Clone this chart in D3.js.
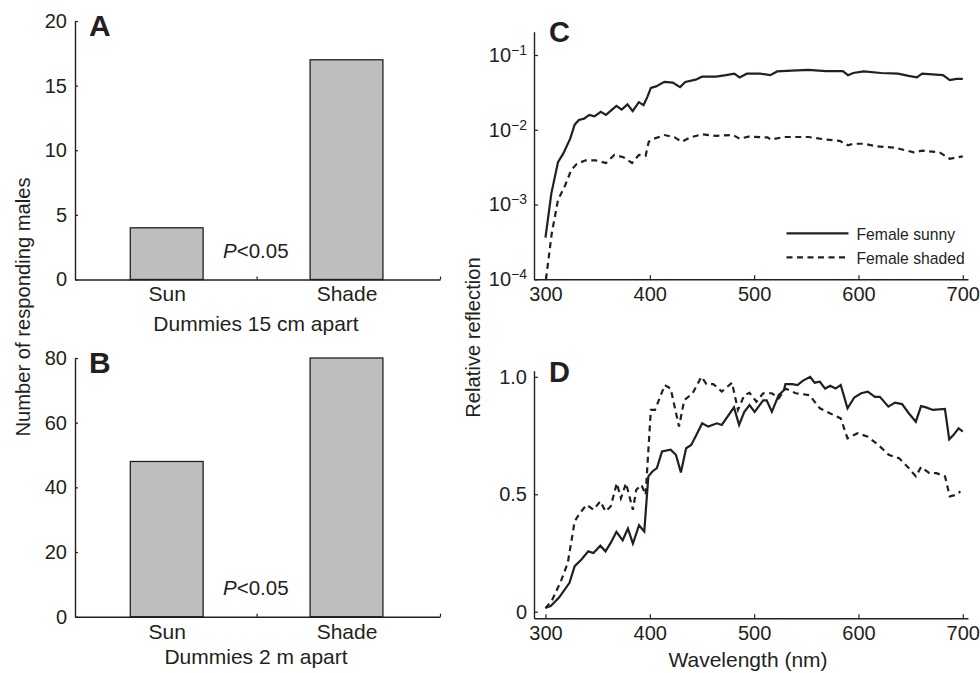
<!DOCTYPE html>
<html>
<head>
<meta charset="utf-8">
<script src="https://d3js.org/d3.v7.min.js"></script>
<style>
	body { margin: 0; background: #fff; }
	svg text { font-family: "Liberation Sans", Arial, Helvetica, sans-serif; fill: #231f20; }
</style>
</head>
<body>
<svg id="chart" width="980" height="673"></svg>
<script>
"use strict";

/* global d3 */

// bar panels A and B
var categories = ["Sun", "Shade"];
var countsA = [4, 17];
var countsB = [48, 80];
var ticksA = [0, 5, 10, 15, 20];
var ticksB = [0, 20, 40, 60, 80];

// panel C: [wavelength nm, relative reflection] on a log axis
var sunnyLog = [
	[300, 3.6e-4], [305.6, 1.4e-3], [312, 3.7e-3], [317, 4.8e-3], [323.7, 7.6e-3],
	[328, 0.0117], [332, 0.0135], [337, 0.0141], [342, 0.0158], [347, 0.0151],
	[353, 0.0174], [358, 0.0158], [368, 0.0209], [373, 0.0186], [378.6, 0.0219],
	[383.6, 0.0178], [389.5, 0.0234], [394, 0.0214], [397.7, 0.0275], [401, 0.0363],
	[406, 0.038], [414, 0.0437], [422, 0.0427], [429, 0.0372], [434, 0.0437],
	[444, 0.0468], [450, 0.0513], [463.5, 0.0513], [473, 0.0537], [481, 0.0562],
	[486, 0.0501], [493, 0.0562], [506, 0.0562], [515.5, 0.0537], [522, 0.0603],
	[536, 0.0617], [552, 0.0631], [568.8, 0.061], [585, 0.061], [590, 0.0537],
	[595, 0.0575], [605, 0.0603], [621.7, 0.0575], [638, 0.0562], [648, 0.0525],
	[656, 0.0501], [661, 0.0562], [681, 0.0537], [687.5, 0.0462], [694, 0.0479],
	[700, 0.0479]
];
var shadedLog = [
	[300.5, 1.0e-4], [306, 4.1e-4], [312, 1.15e-3], [318.8, 1.8e-3], [324.7, 2.9e-3],
	[330, 3.5e-3], [338.5, 3.9e-3], [348, 3.9e-3], [358, 3.6e-3], [366, 4.6e-3],
	[374.7, 4.3e-3], [383, 3.6e-3], [389.5, 4.6e-3], [396, 4.5e-3], [399, 6.9e-3],
	[404, 7.6e-3], [414, 8.5e-3], [424, 7.9e-3], [430.6, 6.9e-3], [438.8, 7.9e-3],
	[450, 8.7e-3], [463.5, 8.3e-3], [480, 8.5e-3], [486, 7.6e-3], [494.7, 8.1e-3],
	[512.8, 7.9e-3], [516, 7.4e-3], [529, 8.0e-3], [552, 8.0e-3], [569, 7.4e-3],
	[582, 7.1e-3], [590, 6.2e-3], [595, 6.5e-3], [605, 6.5e-3], [618, 6.0e-3],
	[635, 5.75e-3], [653, 5.0e-3], [661, 5.25e-3], [677.6, 5.0e-3], [687.5, 4.1e-3],
	[700, 4.4e-3]
];
var logTicks = [1e-4, 1e-3, 1e-2, 1e-1];

// panel D: [wavelength nm, reflection normalised to max]
var sunnyNorm = [
	[300, 0.017], [305, 0.024], [313, 0.06], [323, 0.123], [328, 0.194],
	[334.5, 0.222], [341, 0.257], [346, 0.25], [352.6, 0.281], [357.5, 0.257],
	[362.5, 0.293], [368, 0.34], [374, 0.304], [379, 0.354], [383.8, 0.29],
	[389.7, 0.368], [394.7, 0.342], [398.6, 0.576], [402.5, 0.597], [406.8, 0.611],
	[411.7, 0.682], [420, 0.69], [425, 0.668], [429.8, 0.593], [434.8, 0.696],
	[439.7, 0.71], [444.6, 0.752], [450.2, 0.802], [456, 0.788], [464.3, 0.802],
	[469, 0.795], [480.7, 0.87], [485.6, 0.795], [490.6, 0.851], [495.6, 0.88],
	[500.5, 0.851], [508.7, 0.9], [512, 0.9], [517, 0.851], [523.5, 0.922],
	[528.5, 0.943], [530, 0.969], [536.6, 0.969], [541.6, 0.965], [546.5, 0.983],
	[553.7, 1.0], [558, 0.975], [563, 0.979], [568, 0.95], [573, 0.962],
	[578, 0.95], [583, 0.965], [589.5, 0.866], [596, 0.912], [602.6, 0.93],
	[609, 0.937], [615.7, 0.915], [620.5, 0.915], [628.7, 0.873], [635, 0.89],
	[641.8, 0.884], [648.4, 0.844], [655, 0.809], [660, 0.875], [664.8, 0.87],
	[671.4, 0.859], [682.9, 0.863], [687, 0.734], [691, 0.752], [696, 0.781],
	[700, 0.767]
];
var shadedNorm = [
	[300, 0.014], [306.6, 0.052], [314.8, 0.13], [321.4, 0.208], [328, 0.385],
	[333, 0.42], [339.4, 0.455], [346, 0.434], [352.6, 0.47], [357.5, 0.427],
	[362.5, 0.448], [368.4, 0.547], [372.3, 0.483], [377.2, 0.547], [383.8, 0.434],
	[387, 0.519], [392, 0.54], [396, 0.498], [401, 0.859], [405, 0.859],
	[414.4, 0.965], [420, 0.95], [428, 0.788], [433, 0.9], [441, 0.93],
	[449.5, 1.0], [454.3, 0.969], [460.9, 0.969], [469, 0.937], [478.8, 0.975],
	[484.5, 0.859], [490.6, 0.922], [495.6, 0.932], [502.2, 0.894], [508.7, 0.93],
	[517, 0.93], [523.5, 0.908], [530, 0.95], [540, 0.93], [553, 0.922],
	[563, 0.866], [573, 0.844], [583, 0.823], [589.5, 0.738], [599.3, 0.76],
	[609, 0.745], [619, 0.71], [629, 0.668], [639, 0.653], [648.4, 0.611],
	[655, 0.576], [660, 0.616], [668, 0.59], [674.7, 0.59], [683, 0.576],
	[687.5, 0.491], [694, 0.498], [697.7, 0.512]
];
var wavelengthTicks = [300, 400, 500, 600, 700];
var normTicks = [0, 0.5, 1];
var legendLabels = ["Female sunny", "Female shaded"];

var ink = "#231f20";
var barFill = "#bcbec0";
var dash = "6,4.5";

var svg = d3.select("#chart");

function styleAxis(g) {
	g.select(".domain").attr("stroke", ink).attr("stroke-width", 1.4);
	g.selectAll(".tick line").attr("stroke", ink).attr("stroke-width", 1.2);
	g.selectAll(".tick text").attr("font-size", 20).attr("fill", ink);
}

// bar panel (A or B)
function barPanel(counts, yTicks, yMax, top, bottom, letter, xLabel, xLabelY) {
	var x = d3.scaleLinear().domain([0.49, 2.52]).range([75, 440]);
	var y = d3.scaleLinear().domain([0, yMax]).range([bottom, top]);
	var g = svg.append("g");

	g.append("g")
		.attr("transform", "translate(0," + bottom + ")")
		.call(d3.axisBottom(x).tickValues([1, 1.5, 2, 2.52]).tickSizeInner(-3).tickSizeOuter(0)
			.tickPadding(7).tickFormat(function(d) { return categories[d - 1] || ""; }))
		.call(styleAxis)
		.selectAll(".tick text").attr("font-size", 21);

	g.append("g")
		.attr("transform", "translate(75,0)")
		.call(d3.axisLeft(y).tickValues(yTicks).tickSizeInner(-3).tickSizeOuter(0).tickPadding(8))
		.call(styleAxis);

	var barW = x(1.405) - x(1);
	g.selectAll("rect.bar")
		.data(counts)
		.enter().append("rect")
		.attr("class", "bar")
		.attr("x", function(d, i) { return x(i + 1) - barW / 2; })
		.attr("y", function(d) { return y(d); })
		.attr("width", barW)
		.attr("height", function(d) { return y(0) - y(d); })
		.attr("fill", barFill)
		.attr("stroke", ink)
		.attr("stroke-width", 1.3);

	var p = g.append("text")
		.attr("x", 223)
		.attr("y", bottom - 21.5)
		.attr("font-size", 20.5);
	p.append("tspan").attr("font-style", "italic").text("P");
	p.append("tspan").text("<0.05");

	g.append("text")
		.attr("x", 89)
		.attr("y", top + 14.5)
		.attr("font-size", 30)
		.attr("font-weight", "bold")
		.text(letter);

	g.append("text")
		.attr("x", 256)
		.attr("y", xLabelY)
		.attr("text-anchor", "middle")
		.attr("font-size", 21)
		.text(xLabel);
}

barPanel(countsA, ticksA, 20, 21, 279.5, "A", "Dummies 15 cm apart", 331);
barPanel(countsB, ticksB, 80, 358, 616.7, "B", "Dummies 2 m apart", 663.5);

svg.append("text")
	.attr("transform", "translate(29.5,307) rotate(-90)")
	.attr("text-anchor", "middle")
	.attr("font-size", 20.2)
	.text("Number of responding males");

// spectra panels
var xW = d3.scaleLinear().domain([289, 705]).range([534, 968]);

// panel C
var yC = d3.scaleLog().domain([1e-4, 0.205]).range([279.3, 31.7]);
var gC = svg.append("g");

gC.append("g")
	.attr("transform", "translate(0,279.3)")
	.call(d3.axisBottom(xW).tickValues(wavelengthTicks).tickSizeInner(-4).tickSizeOuter(0).tickPadding(8))
	.call(styleAxis);

var axC = gC.append("g")
	.attr("transform", "translate(534,0)")
	.call(d3.axisLeft(yC).tickValues(logTicks).tickSizeInner(-4).tickSizeOuter(0).tickPadding(7).tickFormat(""))
	.call(styleAxis);

axC.selectAll(".tick text").each(function(d) {
	var t = d3.select(this);
	t.append("tspan").text("10");
	t.append("tspan")
		.attr("font-size", 14)
		.attr("dy", "-0.5em")
		.text("\u2212" + Math.round(-Math.log10(d)));
});

var lineC = d3.line().x(function(d) { return xW(d[0]); }).y(function(d) { return yC(d[1]); });

gC.append("path").datum(sunnyLog)
	.attr("d", lineC)
	.attr("fill", "none").attr("stroke", ink).attr("stroke-width", 2.2);
gC.append("path").datum(shadedLog)
	.attr("d", lineC)
	.attr("fill", "none").attr("stroke", ink).attr("stroke-width", 2.2)
	.attr("stroke-dasharray", dash);

gC.append("text")
	.attr("x", 549).attr("y", 41.5)
	.attr("font-size", 29).attr("font-weight", "bold")
	.text("C");

// legend
var legend = gC.selectAll("g.legend")
	.data(legendLabels)
	.enter().append("g")
	.attr("class", "legend")
	.attr("transform", function(d, i) { return "translate(0," + (233.3 + i * 24) + ")"; });

legend.append("line")
	.attr("x1", 786.5).attr("x2", 848.5)
	.attr("stroke", ink).attr("stroke-width", 2.2)
	.attr("stroke-dasharray", function(d, i) { return i ? dash : null; });

legend.append("text")
	.attr("x", 856.5).attr("y", 6.5)
	.attr("font-size", 15.7)
	.text(function(d) { return d; });

// panel D
var yD = d3.scaleLinear().domain([-0.028, 1.026]).range([618.3, 370.7]);
var gD = svg.append("g");

gD.append("g")
	.attr("transform", "translate(0,618.3)")
	.call(d3.axisBottom(xW).tickValues(wavelengthTicks).tickSizeInner(-4).tickSizeOuter(0).tickPadding(8))
	.call(styleAxis);

gD.append("g")
	.attr("transform", "translate(534,0)")
	.call(d3.axisLeft(yD).tickValues(normTicks).tickSizeInner(-4).tickSizeOuter(0).tickPadding(7)
		.tickFormat(function(d) { return d === 0 ? "0" : d3.format(".1f")(d); }))
	.call(styleAxis);

var lineD = d3.line().x(function(d) { return xW(d[0]); }).y(function(d) { return yD(d[1]); });

gD.append("path").datum(sunnyNorm)
	.attr("d", lineD)
	.attr("fill", "none").attr("stroke", ink).attr("stroke-width", 2.2);
gD.append("path").datum(shadedNorm)
	.attr("d", lineD)
	.attr("fill", "none").attr("stroke", ink).attr("stroke-width", 2.2)
	.attr("stroke-dasharray", dash);

gD.append("text")
	.attr("x", 549).attr("y", 381.5)
	.attr("font-size", 29).attr("font-weight", "bold")
	.text("D");

gD.append("text")
	.attr("x", 748).attr("y", 667)
	.attr("text-anchor", "middle")
	.attr("font-size", 21)
	.text("Wavelength (nm)");

svg.append("text")
	.attr("transform", "translate(479.5,337.5) rotate(-90)")
	.attr("text-anchor", "middle")
	.attr("font-size", 20.2)
	.text("Relative reflection");
</script>
</body>
</html>
